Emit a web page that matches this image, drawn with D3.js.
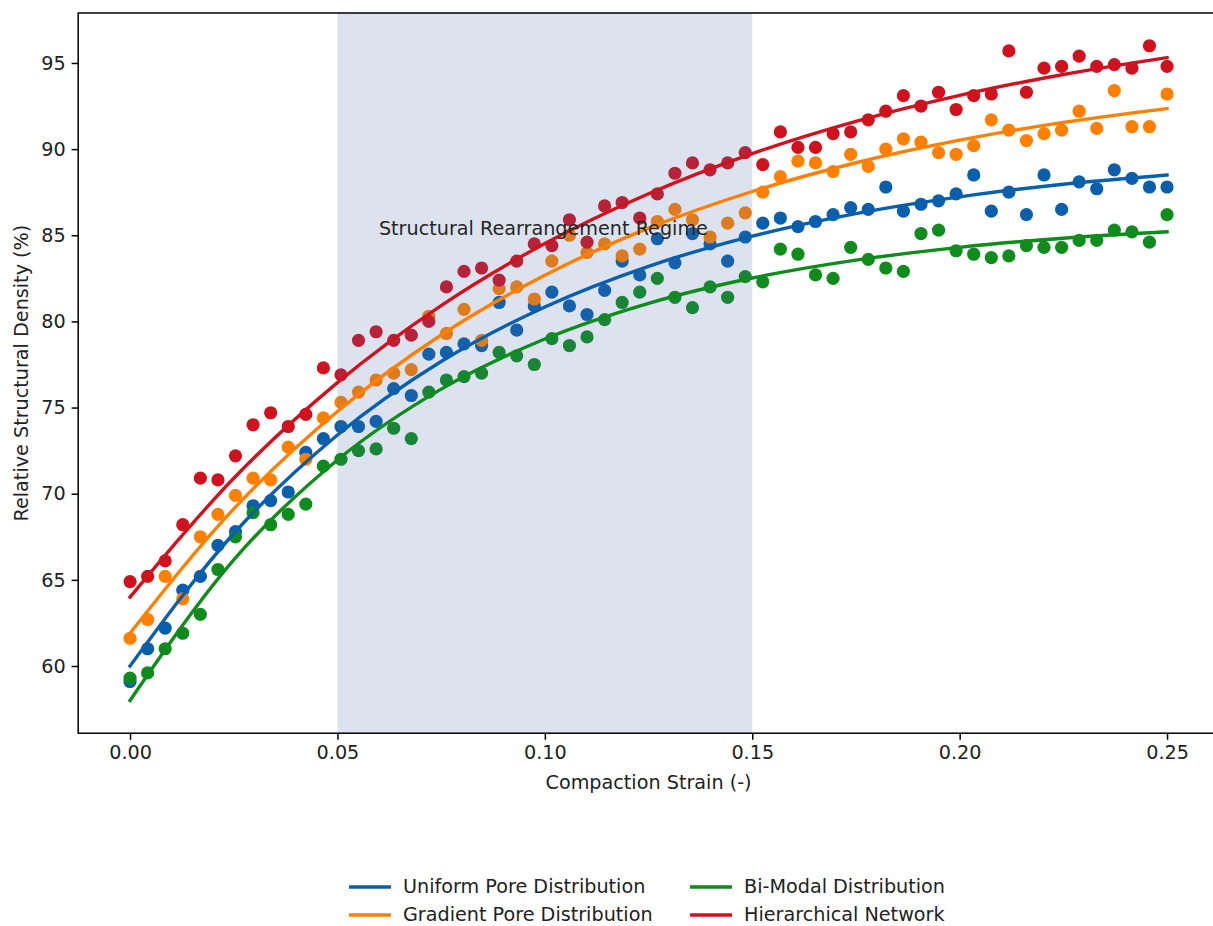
<!DOCTYPE html>
<html>
<head>
<meta charset="utf-8">
<script src="https://cdn.jsdelivr.net/npm/d3@7/dist/d3.min.js"></script>
<style>
  body { margin: 0; background: #ffffff; }
  text { font-family: "DejaVu Sans", sans-serif; }
</style>
</head>
<body>
<svg id="chart" width="1213" height="926"></svg>
<script>
// ---- data ---------------------------------------------------------------
const strain = [
  0.00000, 0.00424, 0.00847, 0.01271, 0.01695, 0.02119, 0.02542, 0.02966, 0.03390, 0.03814,
  0.04237, 0.04661, 0.05085, 0.05508, 0.05932, 0.06356, 0.06780, 0.07203, 0.07627, 0.08051,
  0.08475, 0.08898, 0.09322, 0.09746, 0.10169, 0.10593, 0.11017, 0.11441, 0.11864, 0.12288,
  0.12712, 0.13136, 0.13559, 0.13983, 0.14407, 0.14831, 0.15254, 0.15678, 0.16102, 0.16525,
  0.16949, 0.17373, 0.17797, 0.18220, 0.18644, 0.19068, 0.19492, 0.19915, 0.20339, 0.20763,
  0.21186, 0.21610, 0.22034, 0.22458, 0.22881, 0.23305, 0.23729, 0.24153, 0.24576, 0.25000
];

const uniformPore = [
  59.1, 61.0, 62.2, 64.4, 65.2, 67.0, 67.8, 69.3, 69.6, 70.1,
  72.4, 73.2, 73.9, 73.9, 74.2, 76.1, 75.7, 78.1, 78.2, 78.7,
  78.6, 81.1, 79.5, 80.9, 81.7, 80.9, 80.4, 81.8, 83.5, 82.7,
  84.8, 83.4, 85.1, 84.5, 83.5, 84.9, 85.7, 86.0, 85.5, 85.8,
  86.2, 86.6, 86.5, 87.8, 86.4, 86.8, 87.0, 87.4, 88.5, 86.4,
  87.5, 86.2, 88.5, 86.5, 88.1, 87.7, 88.8, 88.3, 87.8, 87.8
];
const gradientPore = [
  61.6, 62.7, 65.2, 63.9, 67.5, 68.8, 69.9, 70.9, 70.8, 72.7,
  72.0, 74.4, 75.3, 75.9, 76.6, 77.0, 77.2, 80.3, 79.3, 80.7,
  78.9, 81.9, 82.0, 81.3, 83.5, 85.0, 84.0, 84.5, 83.8, 84.2,
  85.8, 86.5, 85.9, 84.9, 85.7, 86.3, 87.5, 88.4, 89.3, 89.2,
  88.7, 89.7, 89.0, 90.0, 90.6, 90.4, 89.8, 89.7, 90.2, 91.7,
  91.1, 90.5, 90.9, 91.1, 92.2, 91.2, 93.4, 91.3, 91.3, 93.2
];
const biModal = [
  59.3, 59.6, 61.0, 61.9, 63.0, 65.6, 67.5, 68.9, 68.2, 68.8,
  69.4, 71.6, 72.0, 72.5, 72.6, 73.8, 73.2, 75.9, 76.6, 76.8,
  77.0, 78.2, 78.0, 77.5, 79.0, 78.6, 79.1, 80.1, 81.1, 81.7,
  82.5, 81.4, 80.8, 82.0, 81.4, 82.6, 82.3, 84.2, 83.9, 82.7,
  82.5, 84.3, 83.6, 83.1, 82.9, 85.1, 85.3, 84.1, 83.9, 83.7,
  83.8, 84.4, 84.3, 84.3, 84.7, 84.7, 85.3, 85.2, 84.6, 86.2
];
const hierarchical = [
  64.9, 65.2, 66.1, 68.2, 70.9, 70.8, 72.2, 74.0, 74.7, 73.9,
  74.6, 77.3, 76.9, 78.9, 79.4, 78.9, 79.2, 80.0, 82.0, 82.9,
  83.1, 82.4, 83.5, 84.5, 84.4, 85.9, 84.6, 86.7, 86.9, 86.0,
  87.4, 88.6, 89.2, 88.8, 89.2, 89.8, 89.1, 91.0, 90.1, 90.1,
  90.9, 91.0, 91.7, 92.2, 93.1, 92.5, 93.3, 92.3, 93.1, 93.2,
  95.7, 93.3, 94.7, 94.8, 95.4, 94.8, 94.9, 94.7, 96.0, 94.8
];

// fitted trend curves, sampled along the strain axis
const fitStrain = [0, 0.025, 0.05, 0.075, 0.10, 0.125, 0.15, 0.175, 0.20, 0.225, 0.25];
const uniformFit      = [60.00, 67.69, 73.41, 77.67, 80.84, 83.20, 84.95, 86.26, 87.23, 87.96, 88.50];
const gradientFit     = [61.90, 69.12, 74.77, 79.21, 82.68, 85.41, 87.54, 89.21, 90.52, 91.55, 92.35];
const biModalFit      = [58.00, 66.16, 71.96, 76.07, 78.98, 81.05, 82.52, 83.56, 84.30, 84.83, 85.20];
const hierarchicalFit = [64.00, 70.90, 76.45, 80.92, 84.52, 87.41, 89.74, 91.61, 93.12, 94.33, 95.31];

const seriesNames  = ["Uniform Pore Distribution", "Gradient Pore Distribution", "Bi-Modal Distribution", "Hierarchical Network"];
const seriesColors = ["#0a5fad", "#ff7f00", "#0f8c1c", "#d0121e"];
const seriesPoints = [uniformPore, gradientPore, biModal, hierarchical];
const seriesFits   = [uniformFit, gradientFit, biModalFit, hierarchicalFit];

const xTicks = [0.00, 0.05, 0.10, 0.15, 0.20, 0.25];
const yTicks = [60, 65, 70, 75, 80, 85, 90, 95];
const regime = { start: 0.05, end: 0.15, label: "Structural Rearrangement Regime", labelX: 0.06, labelY: 85 };

// ---- layout -------------------------------------------------------------
const svg = d3.select("#chart");
const plot = { left: 78.2, right: 1218.9, top: 13, bottom: 733.2 };
const fontSize = 19.2;

const x = d3.scaleLinear().domain([-0.0125, 0.2625]).range([plot.left, plot.right]);
const y = d3.scaleLinear().domain([56.1, 97.9]).range([plot.bottom, plot.top]);

// scatter markers first
seriesPoints.forEach((vals, s) => {
  svg.append("g")
    .selectAll("circle")
    .data(vals)
    .join("circle")
    .attr("cx", (d, i) => x(strain[i]))
    .attr("cy", d => y(d))
    .attr("r", 6.6)
    .attr("fill", seriesColors[s]);
});

// shaded regime band over the markers
svg.append("rect")
  .attr("x", x(regime.start))
  .attr("y", plot.top)
  .attr("width", x(regime.end) - x(regime.start))
  .attr("height", plot.bottom - plot.top)
  .attr("fill", "rgb(70,108,168)")
  .attr("fill-opacity", 0.19);

// fitted curves
const line = d3.line()
  .x((d, i) => x(fitStrain[i]))
  .y(d => y(d))
  .curve(d3.curveMonotoneX);

seriesFits.forEach((vals, s) => {
  svg.append("path")
    .datum(vals)
    .attr("d", line)
    .attr("fill", "none")
    .attr("stroke", seriesColors[s])
    .attr("stroke-width", 3.4)
    .attr("stroke-linecap", "square");
});

// regime label
svg.append("text")
  .attr("x", x(regime.labelX))
  .attr("y", y(regime.labelY))
  .attr("font-size", fontSize)
  .attr("fill", "#262626")
  .text(regime.label);

// axes
const xAxis = d3.axisBottom(x).tickValues(xTicks).tickFormat(d3.format(".2f")).tickSizeInner(6.6).tickSizeOuter(0).tickPadding(6);
const yAxis = d3.axisLeft(y).tickValues(yTicks).tickFormat(d3.format("d")).tickSizeInner(6.6).tickSizeOuter(0).tickPadding(6);

const gx = svg.append("g").attr("transform", `translate(0,${plot.bottom})`).call(xAxis);
const gy = svg.append("g").attr("transform", `translate(${plot.left},0)`).call(yAxis);
[gx, gy].forEach(g => {
  g.select(".domain").remove();
  g.selectAll(".tick line").attr("stroke", "#000").attr("stroke-width", 1.5);
  g.selectAll(".tick text").attr("font-size", fontSize).attr("fill", "#222").attr("font-family", "DejaVu Sans, sans-serif");
});

// frame
svg.append("rect")
  .attr("x", plot.left).attr("y", plot.top)
  .attr("width", plot.right - plot.left).attr("height", plot.bottom - plot.top)
  .attr("fill", "none").attr("stroke", "#000").attr("stroke-width", 1.5);

// axis titles
svg.append("text")
  .attr("x", (plot.left + plot.right) / 2)
  .attr("y", 789)
  .attr("text-anchor", "middle")
  .attr("font-size", fontSize)
  .attr("fill", "#222")
  .text("Compaction Strain (-)");

svg.append("text")
  .attr("transform", `translate(28,${(plot.top + plot.bottom) / 2}) rotate(-90)`)
  .attr("text-anchor", "middle")
  .attr("font-size", fontSize)
  .attr("fill", "#222")
  .text("Relative Structural Density (%)");

// legend, two columns below the axes
const legendCols = [349, 690];
const legendRows = [887, 915];
legendRows.forEach((ly, row) => {
  legendCols.forEach((lx, col) => {
    const s = col * 2 + row;
    const g = svg.append("g");
    g.append("line")
      .attr("x1", lx).attr("x2", lx + 42)
      .attr("y1", ly).attr("y2", ly)
      .attr("stroke", seriesColors[s]).attr("stroke-width", 3.4);
    g.append("text")
      .attr("x", lx + 54).attr("y", ly + 6)
      .attr("font-size", fontSize)
      .attr("fill", "#222")
      .text(seriesNames[s]);
  });
});
</script>
</body>
</html>
